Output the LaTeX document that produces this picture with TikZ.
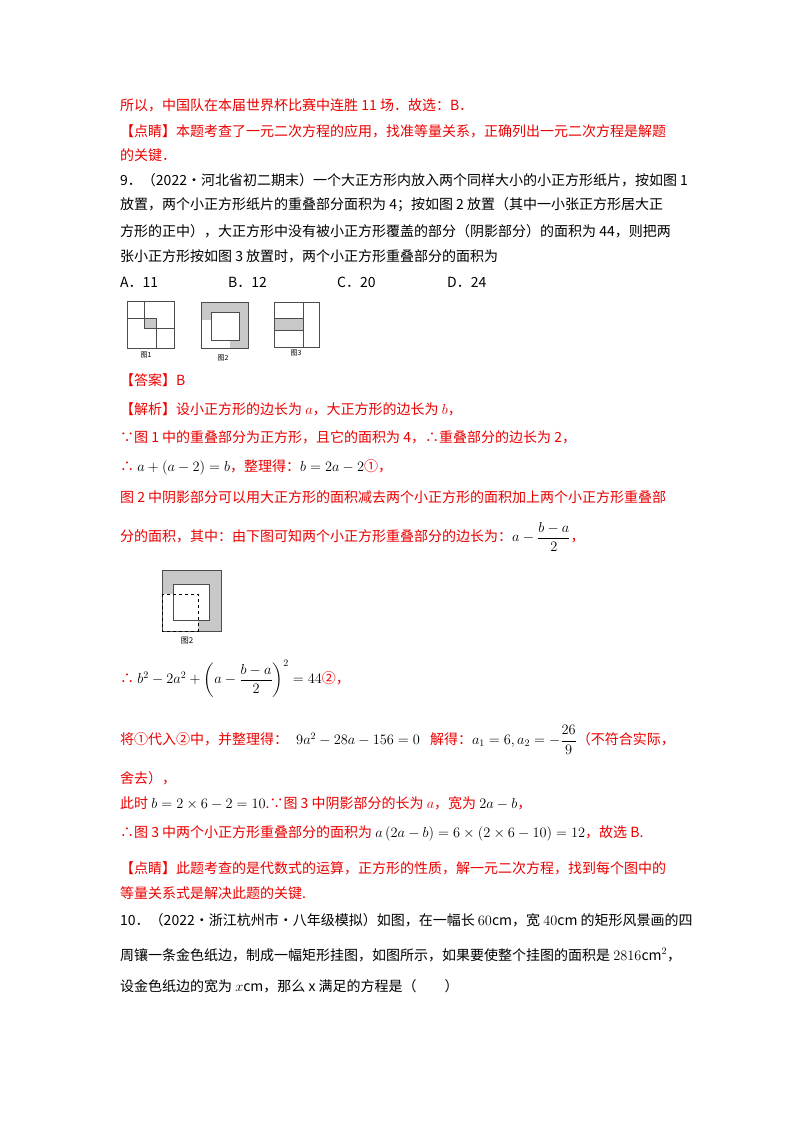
\documentclass[tikz,border=0pt]{standalone}
\usepackage{amsmath}
\usepackage{fontspec}
\setmainfont{Noto Sans CJK SC}
\newfontfamily\ser{Liberation Serif}
\definecolor{rd}{RGB}{235,0,0}
\definecolor{sh}{RGB}{200,200,200}
\begin{document}
\begin{tikzpicture}[x=1pt,y=-1pt,
  t/.style={anchor=west,inner sep=0pt,font=\fontsize{14}{16}\selectfont},
  r/.style={t,text=rd},
  lab/.style={inner sep=0pt,font=\fontsize{7}{8}\selectfont},
  fr/.style={draw=black!70,line width=0.8pt}]
\useasboundingbox (0,0) rectangle (800,1132);
\fill[white] (0,0) rectangle (800,1132);
\node[r] (l1) at (120,105) {所以，中国队在本届世界杯比赛中连胜 11 场．故选：B．};
\node[r] (l2) at (120,131) {【点睛】本题考查了一元二次方程的应用，找准等量关系，正确列出一元二次方程是解题};
\node[r] (l3) at (120,155) {的关键．};
\node[t] (q1) at (120,180) {9．（2022·河北省初二期末）一个大正方形内放入两个同样大小的小正方形纸片，按如图 1};
\node[t] (q2) at (120,205) {放置，两个小正方形纸片的重叠部分面积为 4；按如图 2 放置（其中一小张正方形居大正};
\node[t] (q3) at (120,231) {方形的正中），大正方形中没有被小正方形覆盖的部分（阴影部分）的面积为 44，则把两};
\node[t] (q4) at (120,256) {张小正方形按如图 3 放置时，两个小正方形重叠部分的面积为};
\node[t] (oa) at (120,282) {A．11};
\node[t] (ob) at (228,282) {B．12};
\node[t] (oc) at (337,282) {C．20};
\node[t] (od) at (447,282) {D．24};
% fig 1
\fill[sh] (144,318) rectangle (156,328);
\draw[fr] (127,301) rectangle (174,348);
\draw[fr] (127,318) rectangle (156,348);
\draw[fr] (144,301) rectangle (174,328);
\node[lab] (f1) at (146,355) {图1};
% fig 2
\fill[sh] (201,302) rectangle (248,348);
\fill[white] (201,320) rectangle (230,348);
\draw[fr] (201,302) rectangle (248,348);
\draw[fr,fill=white] (211,312) rectangle (239,340);
\node[lab] (f2) at (223,358) {图2};
% fig 3
\fill[sh] (274,318) rectangle (303,330);
\draw[fr] (274,302) rectangle (319,347);
\draw[fr] (303,302) -- (303,347);
\draw[fr] (274,318) -- (303,318) (274,330) -- (303,330);
\node[lab] (f3) at (296,353) {图3};
\node[r] (ans) at (120,380) {【答案】B};
\node[r] (s1) at (120,409) {【解析】设小正方形的边长为 $a$，大正方形的边长为 $b$，};
\node[r] (s2) at (120,437) {∵图 1 中的重叠部分为正方形，且它的面积为 4，∴重叠部分的边长为 2，};
\node[r] (s3) at (120,467) {∴ {\color{black}$a+\left(a-2\right)=b$}，整理得：{\color{black}$b=2a-2$}①，};
\node[r] (s4) at (120,497) {图 2 中阴影部分可以用大正方形的面积减去两个小正方形的面积加上两个小正方形重叠部};
\node[r] (s5) at (120,537) {分的面积，其中：由下图可知两个小正方形重叠部分的边长为：{\color{black}$a-\dfrac{b-a}{2}$}，};
% fig 2 big
\fill[sh] (162,570) rectangle (221,631);
\fill[white] (162,594) rectangle (198,631);
\draw[fr] (162,570) rectangle (221,631);
\draw[fr,fill=white] (173,584) rectangle (209,620);
\draw[fr,dashed,black] (162,594) rectangle (198,631);
\node[lab,font=\fontsize{8}{9}\selectfont] (f4) at (187,641) {图2};
\node[r] (s6) at (120,679) {∴ {\color{black}$b^2-2a^2+\left(a-\dfrac{b-a}{2}\right)^{2}=44$}②，};
\node[r] (s7) at (120,740) {将①代入②中，并整理得：\hspace{8pt}{\color{black}$9a^2-28a-156=0$}\hspace{10pt}解得：{\color{black}$a_1=6,a_2=-\dfrac{26}{9}$}（不符合实际，};
\node[r] (s8) at (120,778) {舍去），};
\node[r] (s9) at (120,803) {此时 {\color{black}$b=2\times6-2=10$}.∵图 3 中阴影部分的长为 $a$，宽为 {\color{black}$2a-b$}，};
\node[r] (s10) at (120,833) {∴图 3 中两个小正方形重叠部分的面积为 {\color{black}$a\left(2a-b\right)=6\times\left(2\times6-10\right)=12$}，故选 B.};
\node[r] (s11) at (120,868) {【点睛】此题考查的是代数式的运算，正方形的性质，解一元二次方程，找到每个图中的};
\node[r] (s12) at (120,893) {等量关系式是解决此题的关键.};
\node[t] (p1) at (120,920) {10．（2022·浙江杭州市·八年级模拟）如图，在一幅长 $60\mathrm{cm}$，宽 $40\mathrm{cm}$ 的矩形风景画的四};
\node[t] (p2) at (120,955) {周镶一条金色纸边，制成一幅矩形挂图，如图所示，如果要使整个挂图的面积是 $2816\mathrm{cm}^2$，};
\node[t] (p3) at (120,986) {设金色纸边的宽为 $x\mathrm{cm}$，那么 x 满足的方程是（\hspace{2em}）};
\end{tikzpicture}
\end{document}
